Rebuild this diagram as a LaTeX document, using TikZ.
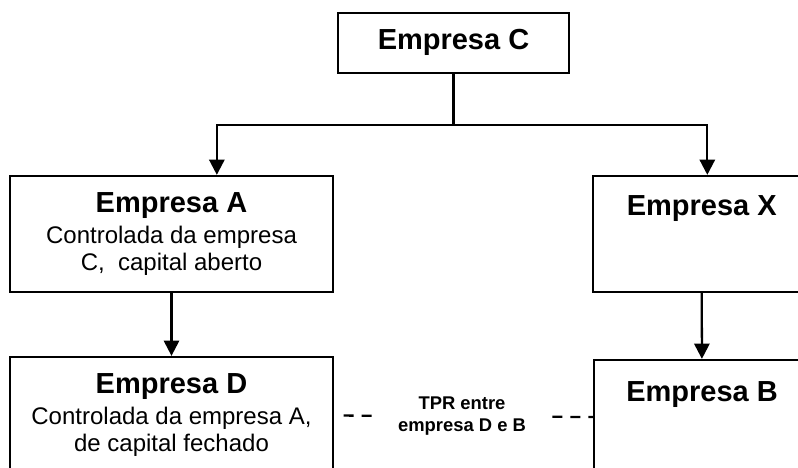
\documentclass[tikz,border=0pt]{standalone}
\usepackage{fontspec}
\setmainfont{Liberation Sans}
\usetikzlibrary{arrows.meta}
\newcommand{\nome}[1]{{\fontsize{21.75}{24}\selectfont\bfseries #1}}

\begin{document}
\begin{tikzpicture}[x=0.75pt,y=-0.75pt]
        \useasboundingbox (0,0) rectangle (798,467);
        \clip (0,0) rectangle (798,467);
        \begin{scope}
            \tikzstyle{empresa}=[draw,rectangle,line width=1.7pt,align=center,inner sep=0pt,font=\fontsize{18}{20.25}\selectfont]
            \tikzstyle{seta}=[line width=1.7pt,-{Triangle[length=11.5pt,width=11.5pt]}]
            \tikzstyle{tracejado}=[line width=1.7pt,dash pattern=on 7.5pt off 6pt]

            \node[empresa,minimum width=173.7pt,minimum height=45pt] (emp_C) at (453.5,42.7) {\nome{Empresa C}};
            \node[empresa,minimum width=242.25pt,minimum height=87pt] (emp_A) at (171.5,234) {\nome{Empresa A}\\[3pt] Controlada da empresa\\ C,~ capital aberto};
            \node[empresa,minimum width=163.5pt,minimum height=87pt,text depth=42.5pt] (emp_X) at (701.7,234) {\nome{Empresa X}};
            \node[empresa,minimum width=242.25pt,minimum height=87pt] (emp_D) at (171.5,415) {\nome{Empresa D}\\[3pt] Controlada da empresa A,\\ de capital fechado};
            \node[empresa,minimum width=162pt,minimum height=87pt,text depth=40pt] (emp_B) at (702,418) {\nome{Empresa B}};
            \node[font=\fontsize{13.8}{17}\selectfont\bfseries,align=center,inner sep=0pt,minimum width=135pt] (tpr) at (462,416) {TPR entre\\empresa D e B};

            \coordinate (ramo) at (453.5,125);
            \draw[line width=1.7pt] (emp_C.south) -- (ramo);
            \draw[seta] (ramo) -| ([xshift=34pt]emp_A.north);
            \draw[seta] (ramo) -| ([xshift=4.2pt]emp_X.north);
            \draw[seta] (emp_A) -- (emp_D);
            \draw[seta] (emp_X) -- (emp_B);
            \draw[tracejado,shorten >=6pt] (tpr) -- (emp_D);
            \draw[tracejado] (tpr) -- (emp_B);
        \end{scope}
\end{tikzpicture}
\end{document}
